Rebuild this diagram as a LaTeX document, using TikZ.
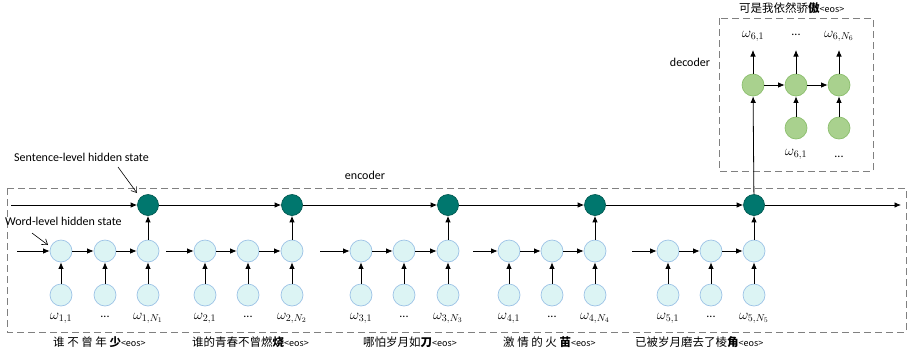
\documentclass[tikz,border=0pt]{standalone}
\usepackage{fontspec}
\setmainfont{Carlito}
\newfontfamily\cjk{Noto Sans CJK SC}
\usetikzlibrary{arrows.meta}
\definecolor{wfill}{HTML}{DCF4F4}
\definecolor{wdraw}{HTML}{9DC3E6}
\definecolor{sfill}{HTML}{00776E}
\definecolor{sdraw}{HTML}{005A52}
\definecolor{dfill}{HTML}{A9D18E}
\definecolor{ddraw}{HTML}{8CBF6E}
\definecolor{boxc}{HTML}{808080}
\newcommand{\eos}{{\fontsize{9}{10}\selectfont<eos>}}
\tikzset{
  wnode/.style={circle,fill=wfill,draw=wdraw,line width=0.7pt,minimum size=22pt,inner sep=0pt},
  snode/.style={circle,fill=sfill,draw=sdraw,line width=0.7pt,minimum size=21pt,inner sep=0pt},
  dnode/.style={circle,fill=dfill,draw=ddraw,line width=0.7pt,minimum size=22pt,inner sep=0pt},
  arr/.style={-{Latex[length=6.5pt,width=5.5pt]},line width=0.8pt,black},
  annarr/.style={-{Straight Barb[length=5pt,width=7pt]},line width=0.6pt},
  boxst/.style={draw=boxc,dash pattern=on 7pt off 4pt,line width=0.9pt},
  wlab/.style={font=\fontsize{14.5}{16}\selectfont,inner sep=0pt},
  dots/.style={font=\fontsize{12}{14}\selectfont,inner sep=0pt},
  cnlab/.style={font=\cjk\fontsize{11.5}{13}\selectfont,anchor=west,inner sep=0pt},
  txt/.style={font=\fontsize{12}{14}\selectfont,inner sep=0pt}
}
\begin{document}
\begin{tikzpicture}[x=1pt,y=-1pt]
\useasboundingbox (0,0) rectangle (908,357);
\draw[boxst] (7,188) rectangle (906,332);
\draw[boxst] (719,18) rectangle (873,171);
\foreach \a/\b/\c/\s/\i in {61/105/148/17/1,205/248/292/166/2,361/404/448/320/3,509/552/595/473/4,668/711/754/632/5}{
  \node[wnode] (ha\i) at (\a,251) {};
  \node[wnode] (hb\i) at (\b,251) {};
  \node[wnode] (hc\i) at (\c,251) {};
  \node[wnode] (xa\i) at (\a,295) {};
  \node[wnode] (xb\i) at (\b,295) {};
  \node[wnode] (xc\i) at (\c,295) {};
  \node[snode] (s\i) at (\c,205) {};
  \coordinate (in\i) at (\s,251);
  \draw[arr] (in\i) -- (ha\i);
  \draw[arr] (ha\i) -- (hb\i);
  \draw[arr] (hb\i) -- (hc\i);
  \draw[arr] (xa\i) -- (ha\i);
  \draw[arr] (xb\i) -- (hb\i);
  \draw[arr] (xc\i) -- (hc\i);
  \draw[arr] (hc\i) -- (s\i);
  \node[wlab] (la\i) at (\a,318) {$\omega_{\i,1}$};
  \node[dots] (lb\i) at (\b,317) {...};
  \node[wlab] (lc\i) at (\c,318) {$\omega_{\i,N_\i}$};
}
\coordinate (tl) at (11,205);
\coordinate (tr) at (901,205);
\draw[arr] (tl) -- (s1);
\draw[arr] (s1) -- (s2);
\draw[arr] (s2) -- (s3);
\draw[arr] (s3) -- (s4);
\draw[arr] (s4) -- (s5);
\draw[arr] (s5) -- (tr);
% chinese labels
\node[cnlab] (c1) at (53,342) {谁 不 曾 年 \textbf{少}\eos};
\node[cnlab] (c2) at (192,342) {谁的青春不曾燃\textbf{烧}\eos};
\node[cnlab] (c3) at (363,342) {哪怕岁月如\textbf{刀}\eos};
\node[cnlab] (c4) at (503,342) {激 情 的 火 \textbf{苗}\eos};
\node[cnlab] (c5) at (635,342) {已被岁月磨去了棱\textbf{角}\eos};
\node[cnlab] (c6) at (739,8) {可是我依然骄\textbf{傲}\eos};
% decoder
\node[dnode] (d1) at (753,85) {};
\node[dnode] (d2) at (796,85) {};
\node[dnode] (d3) at (839,85) {};
\node[dnode] (e2) at (796,128) {};
\node[dnode] (e3) at (839,128) {};
\coordinate (o1) at (753,50);
\coordinate (o2) at (796,50);
\coordinate (o3) at (839,50);
\draw[arr] (s5) -- (d1);
\draw[arr] (d1) -- (d2);
\draw[arr] (d2) -- (d3);
\draw[arr] (e2) -- (d2);
\draw[arr] (e3) -- (d3);
\draw[arr] (d1) -- (o1);
\draw[arr] (d2) -- (o2);
\draw[arr] (d3) -- (o3);
\node[wlab] (t1) at (753,36) {$\omega_{6,1}$};
\node[dots] (t2) at (796,35) {...};
\node[wlab] (t3) at (839,36) {$\omega_{6,N_6}$};
\node[wlab] (b2) at (796,154) {$\omega_{6,1}$};
\node[dots] (b3) at (839,157) {...};
% texts
\node[txt] (enc) at (365,175) {encoder};
\node[txt] (dec) at (690,62) {decoder};
\node[txt,anchor=west] (sent) at (14,157) {Sentence-level hidden state};
\node[txt,anchor=west] (word) at (5,221) {Word-level hidden state};
\coordinate (sa) at (118,167);
\coordinate (sb) at (137,193);
\coordinate (wa) at (32,233);
\coordinate (wb) at (48,245);
\draw[annarr] (sa) -- (sb);
\draw[annarr] (wa) -- (wb);
\end{tikzpicture}
\end{document}
